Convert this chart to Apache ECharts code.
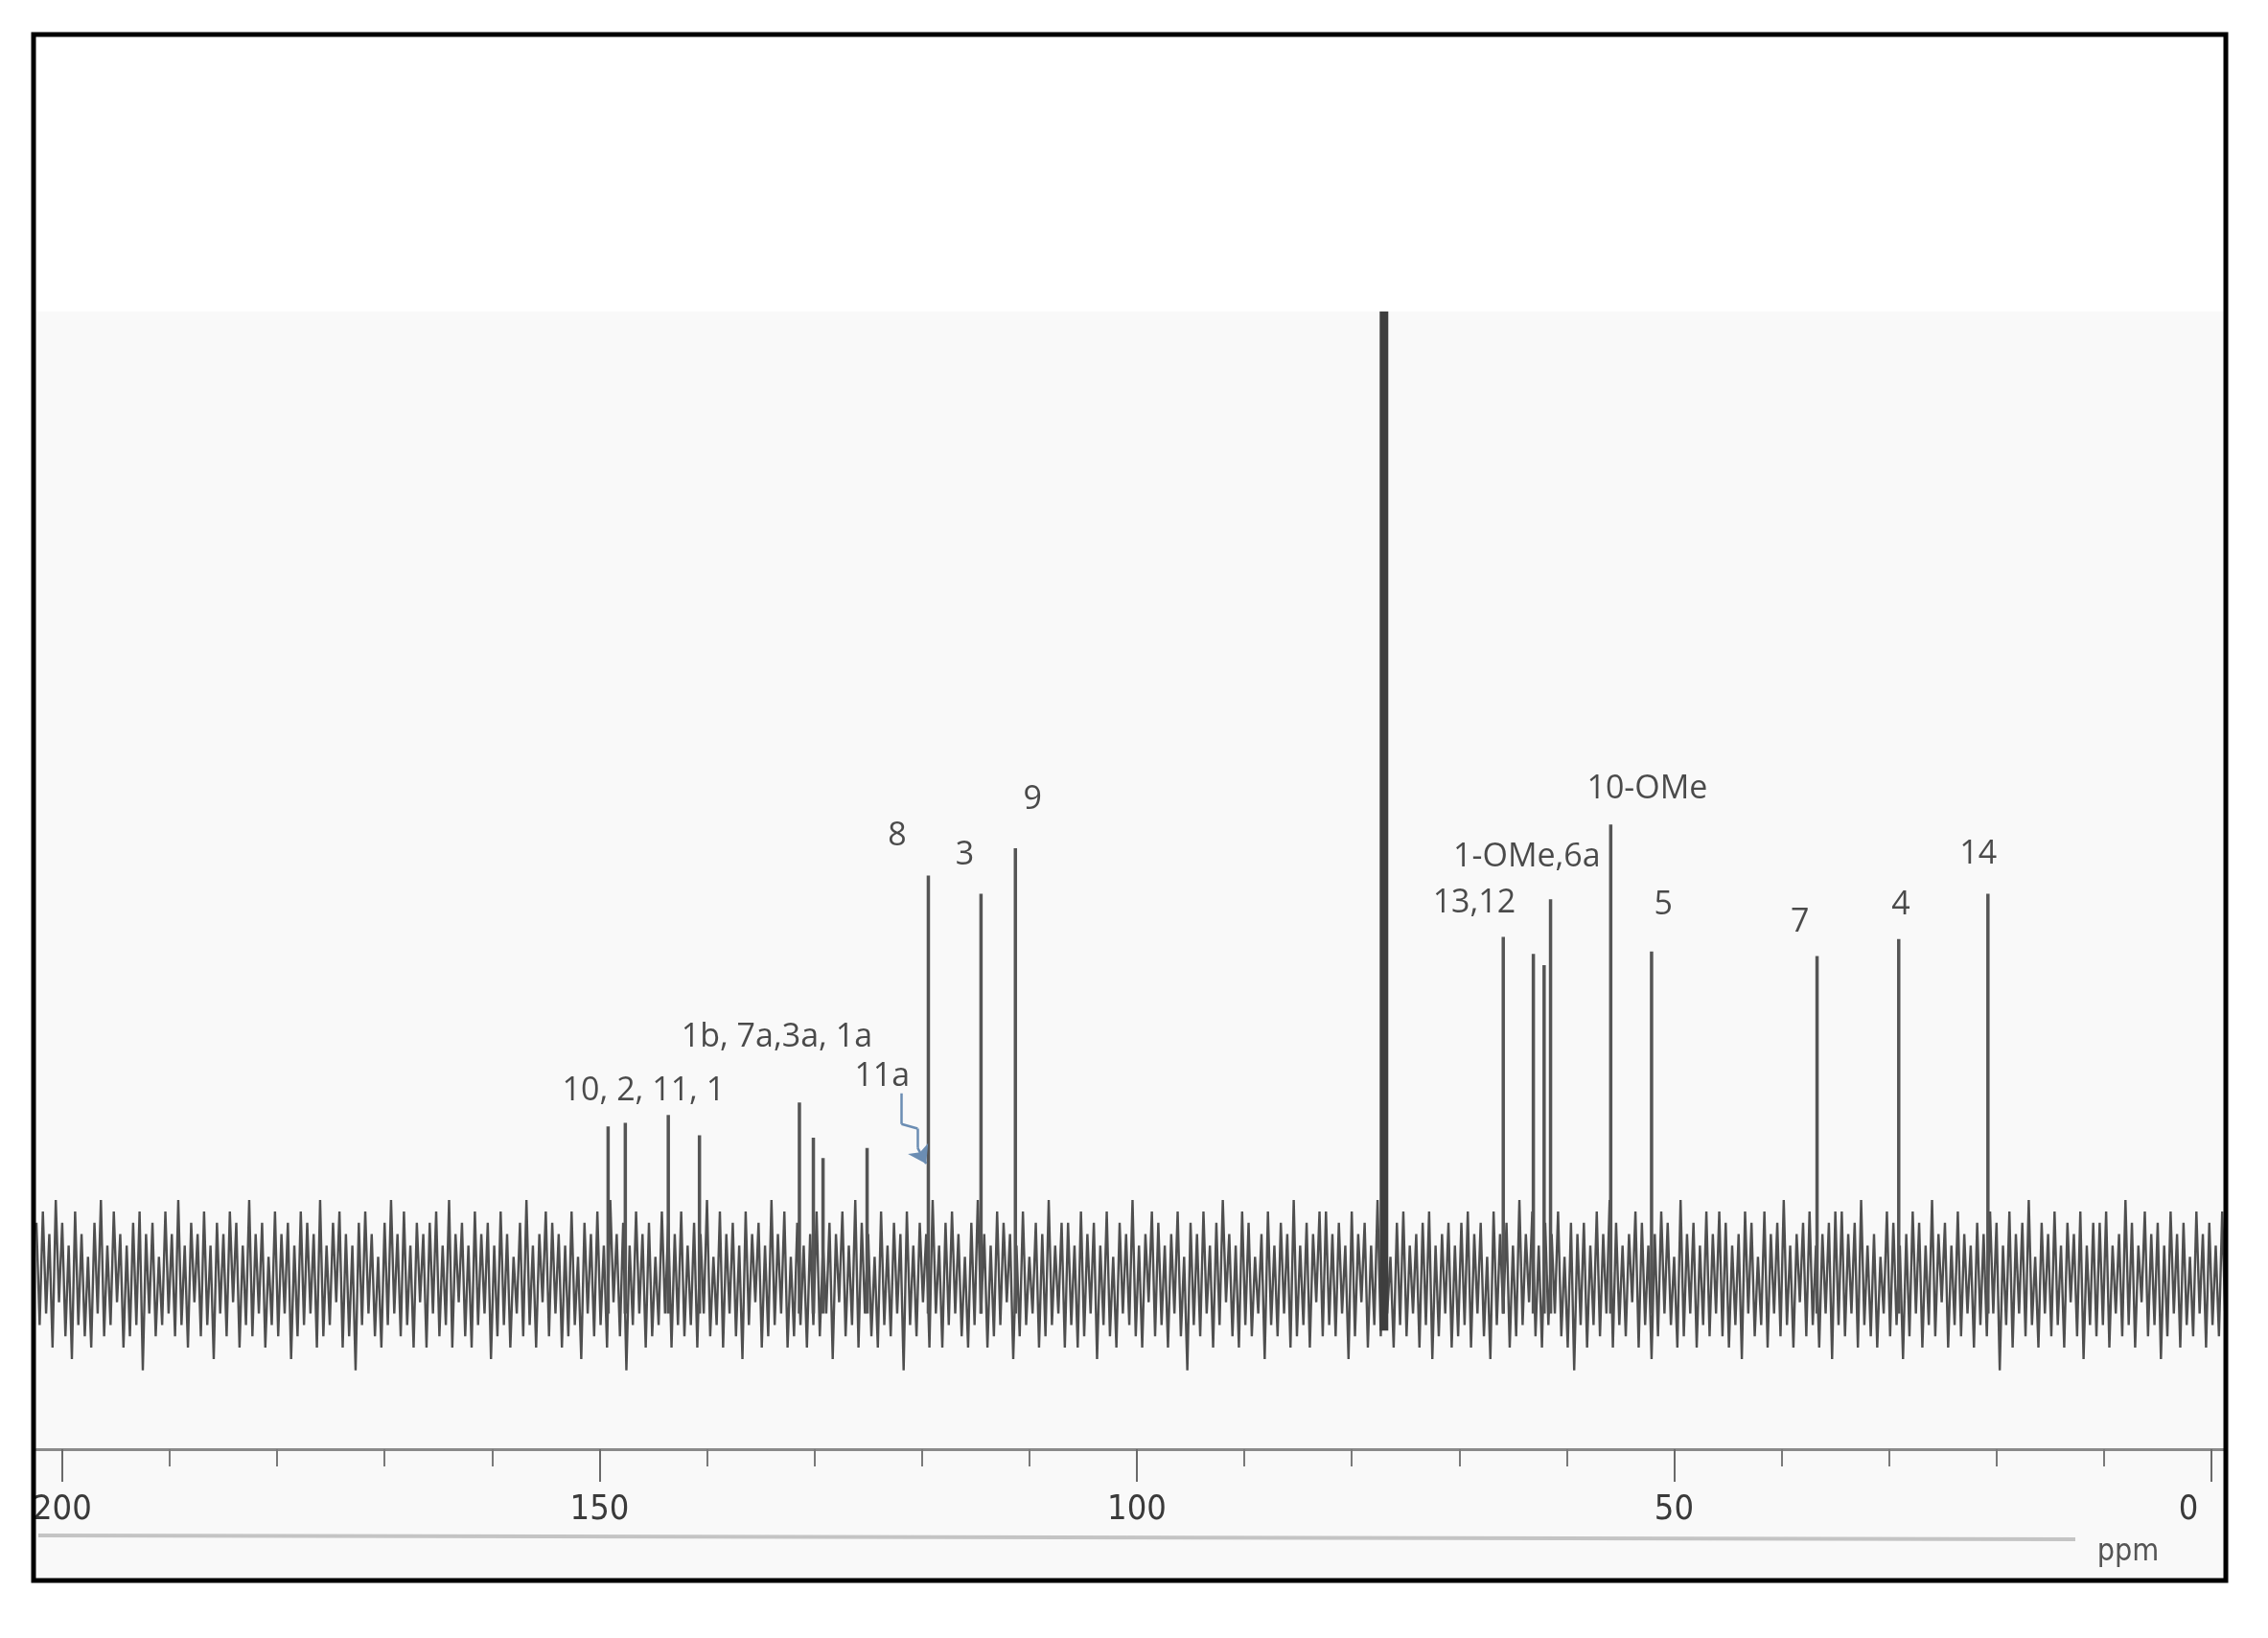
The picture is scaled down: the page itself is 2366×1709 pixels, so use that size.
<!DOCTYPE html>
<html>
<head>
<meta charset="utf-8">
<script src="https://cdn.jsdelivr.net/npm/echarts@6/dist/echarts.min.js"></script>
<style>
  html, body { margin: 0; padding: 0; background: #fff; }
  #chart { width: 2366px; height: 1709px; }
</style>
</head>
<body>
<div id="chart"></div>
<script>
// 13C NMR spectrum (ppm axis runs right to left)
const majorTicks = [0, 50, 100, 150, 200];
const minorTicks = [10, 20, 30, 40, 60, 70, 80, 90, 110, 120, 130, 140, 160, 170, 180, 190];

// signal positions (ppm) and peak heights (arbitrary units above baseline)
const peakShifts  = [149.2, 147.6, 143.6, 140.7, 131.4, 130.1, 129.2, 125.1, 119.4, 114.5, 111.3, 65.9, 63.1, 62.1, 61.5, 55.9, 52.1, 36.7, 29.1, 20.8];
const peakHeights = [13.5, 13.8, 14.5, 12.7, 15.6, 12.5, 10.7, 11.6, 35.6, 34.0, 38.0, 30.2, 28.7, 27.7, 33.5, 40.1, 28.9, 28.5, 30.0, 34.0];

// CDCl3 solvent signal, off scale
const solventShift = 77.0;
const solventTop = 95;
const solventBottom = -4.5;

// baseline noise, sampled every 0.3 ppm from 202.4 ppm
const noiseStart = 202.4;
const noiseStep = 0.3;
const noise = [
  5,-4,6,-3,4,-6,7,-2,5,-5,3,-7,6,-4,4,-5,2,-6,5,-3,7,-5,3,-4,6,-2,4,-6,3,-5,5,-4,6,-8,4,-3,5,-5,2,-4,
  6,-3,4,-5,7,-4,3,-6,5,-2,4,-5,6,-4,3,-7,5,-3,4,-5,6,-2,5,-6,3,-4,7,-5,4,-3,5,-6,2,-4,6,-5,4,-3,5,-7,
  3,-5,6,-4,5,-3,4,-6,7,-5,3,-4,5,-2,6,-6,4,-5,3,-8,5,-4,6,-3,4,-5,2,-6,5,-4,7,-3,4,-5,6,-4,3,-6,5,-2,
  4,-6,5,-3,6,-5,3,-4,7,-6,4,-2,5,-5,3,-6,6,-4,4,-3,5,-7,3,-5,6,-4,4,-6,2,-3,5,-5,7,-4,3,-6,4,-2,6,-5,
  5,-3,4,-6,3,-5,6,-4,2,-7,5,-3,4,-5,6,-4,3,-6,7,-2,4,-5,5,-8,3,-4,6,-3,4,-6,5,-5,2,-4,6,-3,5,-6,4,-4,
  6,-5,3,-4,5,-6,4,-3,7,-5,2,-4,6,-6,4,-3,5,-5,3,-7,6,-4,4,-2,5,-6,3,-5,7,-4,4,-3,6,-6,2,-5,5,-4,3,-6,
  4,-4,6,-5,3,-3,5,-7,4,-2,6,-5,3,-4,7,-6,5,-3,4,-5,2,-6,6,-4,3,-5,5,-3,4,-8,6,-4,3,-5,5,-2,4,-6,7,-3,
  3,-6,5,-4,6,-3,4,-5,2,-6,5,-4,7,-3,4,-6,3,-5,6,-4,5,-2,4,-7,3,-5,6,-4,2,-3,5,-6,4,-5,7,-4,3,-3,5,-6,
  5,-4,3,-6,6,-5,4,-3,5,-7,3,-4,6,-5,2,-6,5,-3,4,-4,7,-5,3,-6,4,-2,6,-5,5,-4,3,-6,4,-3,6,-5,2,-8,5,-4,
  4,-5,6,-3,3,-6,5,-4,7,-2,4,-5,3,-6,6,-4,5,-5,2,-3,4,-7,6,-4,3,-5,5,-3,4,-6,7,-5,3,-4,5,-6,4,-2,6,-5,
  6,-4,4,-5,5,-3,3,-7,6,-5,4,-2,5,-6,3,-4,7,-5,4,-3,2,-6,5,-4,6,-5,3,-3,4,-6,5,-4,6,-7,3,-5,4,-3,5,-6,
  3,-5,5,-4,6,-6,4,-3,5,-5,2,-7,6,-4,4,-3,5,-6,3,-5,7,-4,4,-2,6,-5,3,-6,5,-4,4,-3,6,-5,2,-6,5,-8,4,-4,
  5,-6,3,-4,6,-5,4,-3,7,-6,5,-4,3,-5,4,-2,6,-6,5,-4,3,-7,4,-5,6,-3,5,-4,2,-6,7,-5,4,-3,5,-6,3,-4,6,-5,
  4,-3,6,-5,5,-6,3,-4,4,-7,6,-3,5,-5,2,-4,6,-6,4,-3,5,-5,7,-4,3,-6,4,-2,5,-5,6,-4,3,-6,4,-3,5,-7,6,-4,
  6,-5,4,-3,5,-6,7,-4,3,-5,4,-6,2,-3,6,-5,5,-4,3,-7,4,-5,6,-3,5,-6,3,-4,7,-5,4,-2,5,-6,3,-4,6,-5,4,-3,
  3,-6,5,-4,4,-5,6,-3,5,-8,3,-4,6,-6,4,-3,5,-5,7,-4,2,-6,5,-3,4,-5,6,-4,3,-6,5,-2,4,-5,6,-7,3,-4,5,-5,
  5,-4,6,-6,3,-3,4,-5,7,-4,5,-6,3,-2,6,-5,4,-4,5,-7,3,-5,6,-3,4,-6,5,-4,2,-5,6,-3,4,-6,5,-4,3,-5,6,-4
];

// peak assignment labels
const labelTexts   = ['10, 2, 11, 1', '1b, 7a,3a, 1a', '11a', '8', '3', '9', '13,12', '1-OMe,6a', '10-OMe', '5', '7', '4', '14'];
const labelShifts  = [145.9, 133.5, 123.7, 122.3, 116.0, 109.7, 68.6, 63.7, 52.5, 51.0, 38.3, 28.9, 21.7];
const labelHeights = [16.6, 21.3, 17.9, 39.1, 37.4, 42.3, 33.2, 37.2, 43.2, 33.0, 31.5, 33.0, 37.5];

// arrow from "11a" to its signal
const arrowPath = [[121.9, 16.4], [121.9, 13.7], [120.4, 13.3], [120.4, 11.6]];
const arrowHead = [[120.4, 11.6], [119.6, 10.2]];

const chart = echarts.init(document.getElementById('chart'));

const noiseData = noise.map((v, i) => [noiseStart - i * noiseStep, v]);
const peakData = peakShifts.map((x, i) => [x, peakHeights[i]]);
const labelData = labelTexts.map((t, i) => ({ name: t, value: [labelShifts[i], labelHeights[i]] }));
const arrowSegments = arrowPath.slice(1).map((p, i) => ({ coords: [arrowPath[i], p] }));

const stick = (width, color, base) => (params, api) => {
  const top = api.coord([api.value(0), api.value(1)]);
  const bottom = api.coord([api.value(0), base]);
  return {
    type: 'rect',
    shape: { x: top[0] - width / 2, y: top[1], width: width, height: bottom[1] - top[1] },
    style: { fill: color }
  };
};

const narrowFont = '"Liberation Sans Narrow", "DejaVu Sans Condensed", "Roboto Condensed", sans-serif';

const option = {
  backgroundColor: '#ffffff',
  animation: false,
  grid: { left: 38, right: 46, top: 325, bottom: 197 },
  xAxis: [
    {
      type: 'value', inverse: true, min: -1.16, max: 202.4, position: 'bottom',
      splitLine: { show: false },
      axisLine: { show: true, onZero: false, lineStyle: { color: '#8a8a8a', width: 3 } },
      axisTick: { show: true, customValues: majorTicks, length: 34, lineStyle: { color: '#6a6a6a', width: 2 } },
      axisLabel: {
        show: true, customValues: majorTicks, margin: 46,
        fontFamily: narrowFont, fontSize: 36, color: '#3a3a3a',
        formatter: v => (v === 0 ? '{z|0}' : String(v)),
        rich: { z: { fontSize: 36, color: '#3a3a3a', fontFamily: narrowFont, padding: [0, 48, 20, 0] } }
      }
    },
    {
      type: 'value', inverse: true, min: -1.16, max: 202.4, position: 'bottom',
      splitLine: { show: false },
      axisLine: { show: false, onZero: false },
      axisTick: { show: true, customValues: minorTicks, length: 18, lineStyle: { color: '#7a7a7a', width: 2 } },
      axisLabel: { show: false }
    }
  ],
  yAxis: { type: 'value', min: -14.95, max: 85.3, show: false, splitLine: { show: false } },
  graphic: [
    { type: 'rect', z: -10, shape: { x: 38, y: 325, width: 2282, height: 1322 }, style: { fill: '#f9f9f9' } },
    { type: 'line', z: -5, shape: { x1: 40, y1: 1602, x2: 2165, y2: 1606 }, style: { stroke: '#c4c4c4', lineWidth: 4 } },
    { type: 'text', x: 2220, y: 1620, style: { text: 'ppm', fontSize: 32, fill: '#555', align: 'center', verticalAlign: 'middle', fontFamily: narrowFont } },
    { type: 'rect', z: 100, shape: { x: 35, y: 36, width: 2287, height: 1613 }, style: { fill: 'none', stroke: '#000', lineWidth: 5 } }
  ],
  series: [
    {
      type: 'line', name: 'noise', data: noiseData, showSymbol: false, symbol: 'none',
      lineStyle: { color: '#3c3c3c', width: 2.4, opacity: 0.9 }, z: 2
    },
    {
      type: 'custom', name: 'peaks', data: peakData, clip: true, z: 3,
      renderItem: stick(3.5, '#555', -3)
    },
    {
      type: 'custom', name: 'solvent', data: [[solventShift, solventTop]], clip: true, z: 4,
      renderItem: stick(9, '#3e3e3e', solventBottom)
    },
    {
      type: 'scatter', name: 'labels', data: labelData, symbolSize: 0, z: 5,
      label: {
        show: true, position: 'inside', formatter: p => p.name,
        fontFamily: '"Open Sans", "Noto Sans", sans-serif', fontSize: 34, color: '#1e1e1e'
      }
    },
    {
      type: 'lines', coordinateSystem: 'cartesian2d', z: 6,
      symbol: ['none', 'none'],
      lineStyle: { color: '#6b8db3', width: 2.5, opacity: 1 },
      data: arrowSegments
    },
    {
      type: 'lines', coordinateSystem: 'cartesian2d', z: 6,
      symbol: ['none', 'arrow'], symbolSize: 18,
      lineStyle: { color: '#6b8db3', width: 2.5, opacity: 1 },
      data: [{ coords: arrowHead }]
    }
  ]
};

chart.setOption(option);
</script>
</body>
</html>
